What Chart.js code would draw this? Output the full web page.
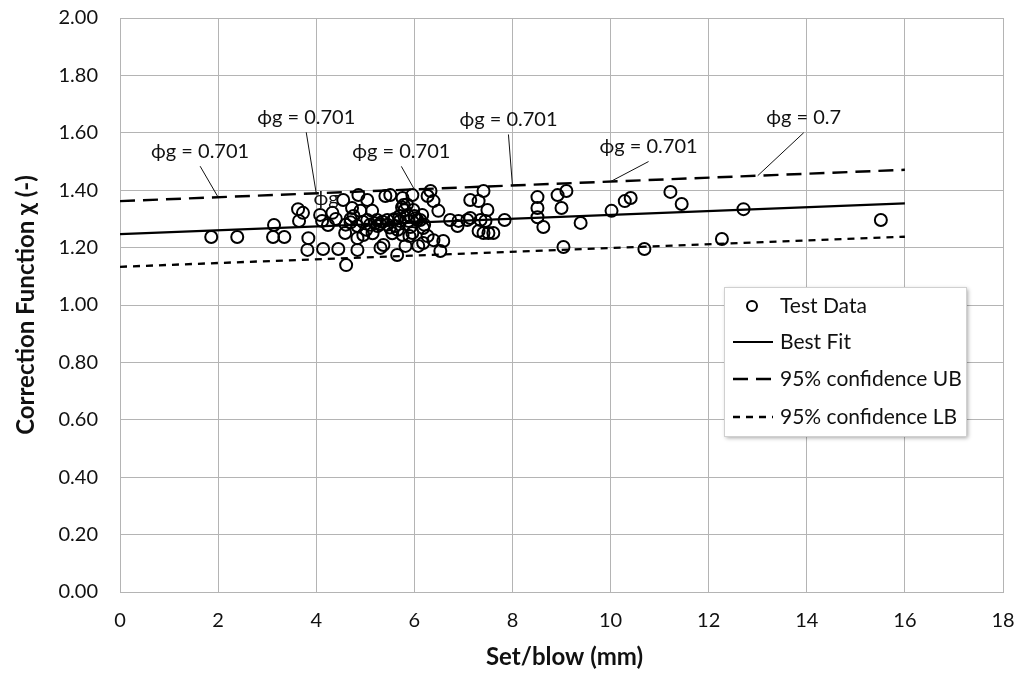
<!DOCTYPE html>
<html>
<head>
<meta charset="utf-8">
<script src="https://cdn.jsdelivr.net/npm/chart.js@4.4.1/dist/chart.umd.min.js"></script>
<style>
  html, body { margin: 0; padding: 0; background: #ffffff; }
  #wrap { width: 1015px; height: 673px; position: relative; }
</style>
</head>
<body>
<div id="wrap"><canvas id="c" width="1015" height="673"></canvas></div>
<script>
// ---------------- DATA ----------------
const testX = [1.86,2.39,3.12,3.14,3.35,3.63,3.73,3.65,3.84,3.82,4.08,4.12,4.24,4.33,4.14,4.45,4.61,4.55,4.73,4.59,
  4.86,5.04,5.41,5.51,4.90,4.76,5.14,5.78,5.76,5.96,5.98,5.86,5.24,5.45,5.57,5.71,5.88,6.06,6.16,4.84,
  5.04,4.96,4.84,5.61,5.76,5.96,5.37,5.31,5.65,5.82,6.08,4.84,6.33,6.27,6.39,6.49,7.41,7.14,7.31,7.49,
  6.12,6.73,6.90,7.08,7.14,7.35,7.45,6.88,7.31,7.41,7.51,7.61,6.18,6.27,6.39,6.18,6.59,6.53,7.84,8.51,
  8.51,8.51,8.63,8.92,9.10,9.00,9.39,9.04,10.02,10.29,10.41,10.69,11.22,11.45,12.27,12.71,15.51,
  5.30,5.50,5.02,4.70,5.92,6.02,5.20,5.66,
  4.70,4.95,5.10,5.25,5.35,5.45,5.60,5.70,5.80,5.85,5.75,6.00,6.20,4.60,4.40,5.15,5.55,5.90];
const testY = [1.237,1.237,1.237,1.279,1.237,1.334,1.321,1.293,1.233,1.192,1.314,1.293,1.279,1.321,1.195,1.195,1.139,1.366,1.338,1.251,
  1.383,1.366,1.380,1.383,1.328,1.310,1.328,1.348,1.373,1.383,1.331,1.314,1.296,1.296,1.296,1.293,1.293,1.296,1.314,1.275,
  1.296,1.244,1.233,1.275,1.244,1.251,1.209,1.199,1.174,1.206,1.206,1.192,1.397,1.380,1.362,1.328,1.397,1.366,1.362,1.331,
  1.296,1.296,1.293,1.296,1.303,1.296,1.293,1.275,1.258,1.251,1.251,1.251,1.268,1.240,1.226,1.216,1.223,1.188,1.296,1.376,
  1.338,1.306,1.272,1.383,1.397,1.338,1.286,1.202,1.328,1.362,1.373,1.195,1.394,1.352,1.230,1.334,1.296,
  1.282,1.270,1.262,1.288,1.272,1.302,1.285,1.262,
  1.300,1.290,1.280,1.275,1.290,1.280,1.300,1.310,1.330,1.350,1.340,1.310,1.280,1.280,1.300,1.250,1.250,1.240];

const fitX = [0, 16];
const bestFitY = [1.247, 1.354];
const upperY   = [1.362, 1.471];
const lowerY   = [1.133, 1.238];

const xTicks = [0,2,4,6,8,10,12,14,16,18];
const yTicks = [0.00,0.20,0.40,0.60,0.80,1.00,1.20,1.40,1.60,1.80,2.00];

const annotX = [2, 4, 6, 8, 10, 13];
const annotText = ["ϕg = 0.701","ϕg = 0.701","ϕg = 0.701","ϕg = 0.701","ϕg = 0.701","ϕg = 0.7"];

const seriesNames = ["Test Data","Best Fit","95% confidence UB","95% confidence LB"];
const xTitle = "Set/blow (mm)";
const yTitle = "Correction Function χ (-)";

// ---------------- CHART ----------------
const FONT = "Lato, 'Open Sans', sans-serif";
const GRID = "#b4b4b4";

function pts(xs, ys) { return xs.map((x, i) => ({ x: x, y: ys[i] })); }
function ubAt(x) {
  return upperY[0] + (upperY[1] - upperY[0]) * (x - fitX[0]) / (fitX[1] - fitX[0]);
}

const labelOffsets = [[-18,-46],[-10,-76],[-13,-38],[-4,-66],[38,-35],[46,-58]];

const overlayPlugin = {
  id: 'overlay',
  afterDatasetsDraw(chart) {
    const ctx = chart.ctx;
    const xs = chart.scales.x, ys = chart.scales.y;
    ctx.save();
    ctx.font = "20px " + FONT;
    ctx.fillStyle = "#111";
    ctx.strokeStyle = "#111";
    ctx.lineWidth = 1;
    ctx.textAlign = "center";
    ctx.textBaseline = "middle";
    annotX.forEach((ax, i) => {
      const px = xs.getPixelForValue(ax);
      const py = ys.getPixelForValue(ubAt(ax));
      const lx = px + labelOffsets[i][0], ly = py + labelOffsets[i][1];
      ctx.beginPath();
      ctx.moveTo(lx, ly + 15);
      ctx.lineTo(px, py);
      ctx.stroke();
      ctx.fillText(annotText[i], lx, ly);
    });
    ctx.fillText("ϕg", xs.getPixelForValue(4.2), ys.getPixelForValue(1.37));

    // axis titles
    ctx.font = "bold 24px " + FONT;
    ctx.fillStyle = "#111";
    ctx.fillText(xTitle, (xs.left + xs.right) / 2 + 3, 657);
    ctx.save();
    ctx.translate(26, (ys.top + ys.bottom) / 2);
    ctx.rotate(-Math.PI / 2);
    ctx.fillText(yTitle, 0, 0);
    ctx.restore();

    // legend box
    const bx = 724, by = 287, bw = 242, bh = 149;
    ctx.save();
    ctx.shadowColor = "rgba(0,0,0,0.35)";
    ctx.shadowBlur = 4;
    ctx.shadowOffsetX = 2;
    ctx.shadowOffsetY = 2;
    ctx.fillStyle = "#ffffff";
    ctx.fillRect(bx, by, bw, bh);
    ctx.restore();
    ctx.strokeStyle = "#d0d0d0";
    ctx.lineWidth = 1;
    ctx.strokeRect(bx + 0.5, by + 0.5, bw, bh);

    const rows = [306, 342, 379, 417];
    ctx.font = "21px " + FONT;
    ctx.textAlign = "left";
    ctx.fillStyle = "#111";
    const ds = chart.data.datasets;
    rows.forEach((ry, i) => {
      ctx.fillText(ds[i].label, 780, ry);
    });
    ctx.strokeStyle = "#000";
    ctx.lineWidth = 2;
    ctx.beginPath();
    ctx.arc(752, rows[0], 5, 0, Math.PI * 2);
    ctx.stroke();
    [1, 2, 3].forEach(i => {
      ctx.save();
      ctx.lineWidth = ds[i].borderWidth;
      ctx.setLineDash(ds[i].borderDash || []);
      ctx.beginPath();
      ctx.moveTo(733, rows[i]);
      ctx.lineTo(773, rows[i]);
      ctx.stroke();
      ctx.restore();
    });
    ctx.restore();
  }
};

new Chart(document.getElementById('c'), {
  type: 'scatter',
  data: {
    datasets: [
      { label: seriesNames[0], data: pts(testX, testY), showLine: false,
        pointStyle: 'circle', pointRadius: 6, pointBorderWidth: 2,
        borderColor: '#000', backgroundColor: 'rgba(0,0,0,0)', order: 1 },
      { label: seriesNames[1], data: pts(fitX, bestFitY), showLine: true, pointRadius: 0,
        borderColor: '#000', borderWidth: 2.2, order: 2 },
      { label: seriesNames[2], data: pts(fitX, upperY), showLine: true, pointRadius: 0,
        borderColor: '#000', borderWidth: 2.4, borderDash: [15, 8], order: 2 },
      { label: seriesNames[3], data: pts(fitX, lowerY), showLine: true, pointRadius: 0,
        borderColor: '#000', borderWidth: 2.4, borderDash: [7, 6], order: 2 }
    ]
  },
  options: {
    responsive: false,
    animation: false,
    layout: { padding: { left: 0, top: 18, right: 12, bottom: 0 } },
    plugins: { legend: { display: false }, tooltip: { enabled: false } },
    scales: {
      x: {
        type: 'linear', min: 0, max: 18,
        afterBuildTicks: s => { s.ticks = xTicks.map(v => ({ value: v })); },
        afterFit: s => { s.height = 81; s.paddingLeft = 0; s.paddingRight = 0; },
        ticks: { color: '#111', font: { family: FONT, size: 20 }, padding: 17, maxRotation: 0,
                 callback: v => String(v) },
        grid: { color: GRID, lineWidth: 1, drawTicks: false },
        border: { color: GRID, width: 1 }
      },
      y: {
        type: 'linear', min: 0, max: 2,
        afterBuildTicks: s => { s.ticks = yTicks.map(v => ({ value: v })); },
        afterFit: s => { s.width = 120; s.paddingTop = 0; s.paddingBottom = 0; },
        ticks: { color: '#111', font: { family: FONT, size: 20 }, padding: 22,
                 callback: v => Number(v).toFixed(2) },
        grid: { color: GRID, lineWidth: 1, drawTicks: false },
        border: { color: GRID, width: 1 }
      }
    }
  },
  plugins: [overlayPlugin]
});
</script>
</body>
</html>
